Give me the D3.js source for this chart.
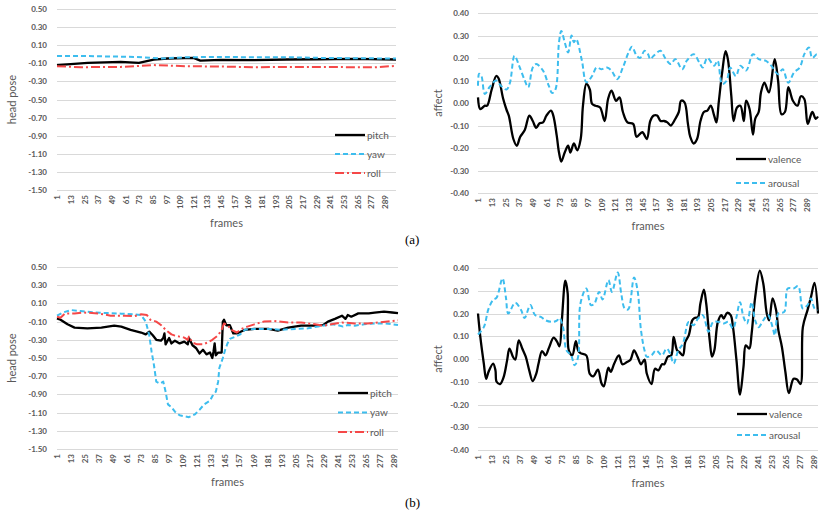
<!DOCTYPE html>
<meta charset="utf-8">
<style>
body { margin: 0; background: #fff; }
svg text { font-family: Lato, "Open Sans", sans-serif; fill: #595959; }
.tick text { font-size: 8px; font-weight: bold; }
.title { font-size: 11px; }
.legend text { font-size: 10px; }
.tag { font-family: "Liberation Serif", serif; fill: #000; font-size: 13px; }
.grid line { stroke: #d9d9d9; stroke-width: 1; }
</style>
<body>
<script src="https://cdn.jsdelivr.net/npm/d3@7"></script>
<script>

//---- tick labels ----
var poseTicks = [0.5, 0.3, 0.1, -0.1, -0.3, -0.5, -0.7, -0.9, -1.1, -1.3, -1.5];
var affectTicks = [0.4, 0.3, 0.2, 0.1, 0.0, -0.1, -0.2, -0.3, -0.4];
var frameTicks = [1, 13, 25, 37, 49, 61, 73, 85, 97, 109, 121, 133, 145, 157, 169, 181, 193, 205, 217, 229, 241, 253, 265, 277, 289];

//---- (a) head pose, [frame, value] ----
var a_pitch = [[1,-0.12],[16,-0.106],[28,-0.095],[57,-0.084],[73,-0.095],[86,-0.06],[98,-0.047],[121,-0.04],[127,-0.07],[145,-0.062],[174,-0.066],[203,-0.058],[232,-0.055],[262,-0.05],[299,-0.058]];
var a_yaw = [[1,-0.02],[28,-0.02],[71,-0.03],[92,-0.047],[115,-0.033],[145,-0.03],[174,-0.033],[203,-0.033],[232,-0.04],[262,-0.044],[299,-0.047]];
var a_roll = [[1,-0.132],[22,-0.143],[57,-0.14],[86,-0.12],[115,-0.132],[145,-0.136],[174,-0.143],[203,-0.14],[232,-0.14],[262,-0.143],[280,-0.145],[299,-0.128]];

//---- (a) affect ----
var a_valence = [[1,0.025],[3,-0.027],[7,-0.012],[9,-0.012],[13,0.06],[17,0.12],[19,0.11],[23,0.02],[26,-0.03],[28,-0.056],[32,-0.16],[35,-0.19],[38,-0.15],[42,-0.12],[46,-0.056],[49,-0.08],[52,-0.11],[55,-0.09],[58,-0.086],[61,-0.056],[65,-0.034],[67,-0.056],[70,-0.145],[72,-0.22],[74,-0.26],[77,-0.22],[80,-0.19],[82,-0.22],[85,-0.18],[88,-0.21],[91,-0.16],[93,-0.012],[96,0.085],[99,0.06],[101,-0.004],[104,-0.012],[108,-0.02],[112,-0.08],[115,0.018],[118,0.055],[122,0.01],[125,0.025],[128,-0.04],[132,-0.086],[137,-0.093],[140,-0.15],[145,-0.13],[149,-0.16],[152,-0.08],[155,-0.056],[158,-0.056],[161,-0.08],[164,-0.08],[167,-0.086],[170,-0.1],[174,-0.07],[177,-0.04],[179,0.01],[182,0.003],[185,-0.093],[187,-0.15],[190,-0.18],[193,-0.16],[196,-0.08],[199,-0.04],[202,-0.034],[205,-0.012],[208,-0.056],[210,-0.086],[212,0.003],[215,0.136],[218,0.23],[220,0.195],[223,0.033],[225,-0.08],[228,-0.02],[231,-0.012],[234,-0.08],[236,0.01],[239,-0.027],[242,-0.14],[244,-0.07],[247,-0.04],[249,0.047],[252,0.09],[256,0.047],[261,0.195],[264,0.1],[267,-0.05],[270,-0.04],[273,0.07],[277,0.01],[281,-0.012],[284,0.03],[287,0.018],[290,-0.093],[294,-0.04],[297,-0.07],[299,-0.06]];
var a_arousal = [[1,0.077],[2,0.13],[4,0.12],[7,0.04],[11,0.07],[17,0.1],[21,0.077],[26,0.06],[29,0.09],[33,0.21],[37,0.166],[42,0.1],[45,0.07],[49,0.158],[52,0.173],[58,0.144],[63,0.077],[66,0.044],[69,0.062],[72,0.27],[74,0.32],[77,0.27],[80,0.225],[83,0.3],[85,0.27],[87,0.284],[92,0.19],[96,0.092],[101,0.12],[105,0.158],[109,0.15],[114,0.158],[118,0.144],[123,0.106],[128,0.158],[133,0.225],[136,0.25],[140,0.21],[143,0.2],[147,0.232],[150,0.217],[152,0.195],[155,0.21],[161,0.232],[165,0.2],[170,0.173],[174,0.195],[180,0.15],[184,0.188],[190,0.217],[195,0.18],[198,0.158],[202,0.2],[208,0.166],[211,0.188],[215,0.084],[219,0.1],[222,0.158],[227,0.12],[231,0.166],[236,0.144],[242,0.217],[247,0.195],[253,0.188],[258,0.166],[264,0.128],[268,0.15],[273,0.09],[278,0.136],[283,0.158],[287,0.217],[291,0.247],[294,0.2],[298,0.217],[299,0.21]];

//---- (b) head pose ----
var b_pitch = [[1,-0.064],[4,-0.08],[10,-0.13],[16,-0.166],[27,-0.174],[39,-0.166],[50,-0.145],[56,-0.155],[64,-0.19],[73,-0.22],[77,-0.24],[80,-0.21],[83,-0.25],[86,-0.3],[90,-0.31],[92,-0.28],[93,-0.23],[94,-0.35],[97,-0.28],[99,-0.34],[102,-0.31],[106,-0.34],[110,-0.32],[113,-0.35],[114,-0.28],[117,-0.36],[120,-0.39],[123,-0.45],[126,-0.41],[129,-0.46],[132,-0.44],[134,-0.5],[135,-0.43],[136,-0.34],[137,-0.47],[139,-0.44],[142,-0.44],[143,-0.1],[144,-0.08],[146,-0.14],[149,-0.14],[152,-0.23],[155,-0.23],[162,-0.19],[170,-0.18],[182,-0.18],[190,-0.2],[199,-0.166],[210,-0.145],[222,-0.145],[229,-0.137],[233,-0.1],[239,-0.07],[245,-0.035],[248,-0.07],[250,-0.028],[253,-0.046],[259,-0.01],[268,-0.01],[273,-0.002],[281,0.009],[288,0.0],[293,-0.006]];
var b_yaw = [[1,-0.035],[6,0.0],[13,0.027],[21,0.016],[33,0.0],[44,-0.006],[56,-0.013],[67,-0.02],[73,-0.028],[77,-0.1],[80,-0.25],[82,-0.43],[84,-0.575],[86,-0.76],[89,-0.78],[92,-0.76],[94,-0.87],[96,-1.01],[99,-1.04],[102,-1.09],[106,-1.13],[110,-1.14],[114,-1.15],[119,-1.12],[123,-1.07],[127,-1.01],[132,-0.97],[134,-0.92],[137,-0.87],[139,-0.76],[140,-0.61],[143,-0.5],[145,-0.41],[147,-0.34],[149,-0.29],[154,-0.265],[158,-0.24],[162,-0.19],[170,-0.18],[182,-0.18],[193,-0.19],[205,-0.18],[216,-0.174],[228,-0.145],[236,-0.13],[241,-0.137],[246,-0.155],[250,-0.137],[256,-0.145],[264,-0.13],[273,-0.12],[282,-0.12],[293,-0.137]];
var b_roll = [[1,-0.046],[4,-0.057],[8,-0.01],[16,-0.01],[24,0.0],[36,-0.01],[47,-0.035],[59,-0.035],[67,-0.04],[73,-0.02],[78,-0.028],[81,-0.08],[86,-0.1],[90,-0.137],[94,-0.19],[99,-0.24],[102,-0.254],[106,-0.265],[110,-0.276],[113,-0.3],[114,-0.265],[117,-0.33],[121,-0.35],[126,-0.35],[130,-0.33],[134,-0.3],[139,-0.25],[142,-0.19],[144,-0.12],[147,-0.137],[150,-0.19],[155,-0.22],[159,-0.18],[164,-0.155],[170,-0.13],[178,-0.1],[187,-0.093],[199,-0.11],[210,-0.11],[222,-0.13],[229,-0.145],[236,-0.13],[245,-0.11],[256,-0.12],[267,-0.12],[278,-0.108],[293,-0.086]];

//---- (b) affect ----
var b_valence = [[1,0.2],[3,0.097],[6,-0.02],[8,-0.087],[10,-0.057],[14,-0.02],[16,-0.05],[17,-0.1],[20,-0.11],[23,-0.08],[26,-0.006],[28,0.046],[31,0.01],[33,-0.003],[36,0.082],[39,0.046],[42,0.01],[45,-0.05],[48,-0.097],[51,-0.065],[53,-0.02],[56,0.035],[59,0.016],[62,0.05],[66,0.094],[69,0.075],[71,0.056],[73,0.17],[76,0.344],[78,0.29],[79,0.038],[82,0.016],[85,0.078],[87,0.038],[89,0.026],[94,0.016],[97,-0.065],[100,-0.076],[104,-0.047],[107,-0.106],[109,-0.12],[113,-0.038],[115,-0.057],[118,-0.02],[122,0.016],[125,-0.023],[129,-0.013],[132,-0.003],[135,0.038],[138,0.01],[141,-0.023],[144,-0.003],[146,-0.065],[150,-0.11],[153,-0.043],[156,-0.05],[159,-0.023],[161,-0.023],[164,0.01],[167,0.016],[169,0.097],[172,0.038],[174,0.03],[177,0.016],[179,0.075],[182,0.104],[185,0.17],[187,0.18],[190,0.185],[192,0.244],[195,0.305],[197,0.244],[200,0.082],[202,0.01],[204,0.038],[207,0.163],[210,0.193],[212,0.178],[215,0.203],[218,0.193],[220,0.14],[223,-0.006],[226,-0.157],[229,-0.035],[231,0.06],[234,0.046],[236,0.112],[239,0.27],[243,0.388],[246,0.332],[249,0.2],[251,0.17],[254,0.266],[257,0.215],[259,0.126],[262,0.053],[265,-0.057],[268,-0.15],[272,-0.087],[275,-0.09],[278,-0.11],[280,0.14],[284,0.215],[287,0.273],[290,0.335],[293,0.2]];
var b_arousal = [[1,0.108],[6,0.14],[10,0.22],[14,0.26],[17,0.27],[22,0.354],[25,0.27],[27,0.2],[33,0.247],[38,0.215],[41,0.18],[46,0.237],[50,0.193],[55,0.185],[59,0.17],[65,0.163],[69,0.17],[71,0.18],[74,0.14],[77,0.038],[81,0.016],[84,-0.028],[87,0.01],[89,0.244],[94,0.31],[98,0.237],[101,0.244],[105,0.295],[108,0.262],[113,0.347],[116,0.295],[121,0.38],[124,0.288],[127,0.222],[130,0.218],[135,0.358],[138,0.303],[141,0.126],[144,0.038],[146,0.01],[150,0.016],[154,0.038],[159,0.016],[163,0.046],[166,0.024],[169,-0.02],[173,0.038],[177,0.068],[182,0.163],[186,0.148],[190,0.178],[194,0.193],[199,0.12],[203,0.163],[208,0.163],[212,0.156],[216,0.163],[220,0.134],[223,0.185],[226,0.25],[229,0.185],[232,0.156],[236,0.25],[239,0.17],[242,0.14],[246,0.17],[250,0.193],[254,0.14],[256,0.104],[259,0.2],[264,0.207],[267,0.31],[272,0.31],[276,0.32],[280,0.222],[284,0.237],[287,0.266],[290,0.222],[293,0.215]];

//---- styles ----
var BLACK = "#000000", BLUE = "#3dbdee", RED = "#f54848";
var solid = null, dashed = "5,3", dashdot = "9,3,2,3";

var svg = d3.select("body").append("svg").attr("width", 819).attr("height", 512);

function panel(cfg) {
    var x = d3.scaleLinear().domain([1, cfg.n]).range([cfg.left, cfg.right]);
    var y = d3.scaleLinear().domain([cfg.ticks[cfg.ticks.length - 1], cfg.ticks[0]]).range([cfg.bottom, cfg.top]);
    var g = svg.append("g");

    // gridlines
    g.append("g").attr("class", "grid").selectAll("line")
        .data(cfg.ticks).enter().append("line")
        .attr("x1", cfg.left).attr("x2", cfg.right)
        .attr("y1", function (d) { return Math.round(y(d)) + 0.5; })
        .attr("y2", function (d) { return Math.round(y(d)) + 0.5; });

    // y axis
    var ya = g.append("g").attr("transform", "translate(" + cfg.left + ",0)")
        .call(d3.axisLeft(y).tickValues(cfg.ticks).tickSize(0).tickPadding(cfg.ypad)
            .tickFormat(function (d) { return d.toFixed(2); }));
    ya.select(".domain").remove();

    // x axis
    var xa = g.append("g").attr("transform", "translate(0," + cfg.bottom + ")")
        .call(d3.axisBottom(x).tickValues(frameTicks).tickSize(0));
    xa.select(".domain").remove();
    xa.selectAll("text").attr("transform", "rotate(-90)")
        .attr("text-anchor", "end").attr("x", -5).attr("y", 0).attr("dy", "0.35em");

    // titles
    g.append("text").attr("class", "title").attr("text-anchor", "middle")
        .attr("x", (cfg.left + cfg.right) / 2 + cfg.fx).attr("y", cfg.fy).text("frames");
    g.append("text").attr("class", "title").attr("text-anchor", "middle")
        .attr("transform", "translate(" + cfg.yx + "," + (cfg.top + cfg.bottom) / 2 + ") rotate(-90)")
        .attr("dy", "0.35em").text(cfg.ytitle);

    // series
    cfg.series.forEach(function (s) {
        var line = d3.line().x(function (d) { return x(d[0]); }).y(function (d) { return y(d[1]); })
            .curve(cfg.smooth ? d3.curveCatmullRom.alpha(0.5) : d3.curveLinear);
        g.append("path").datum(s.data).attr("d", line)
            .attr("fill", "none").attr("stroke", s.color).attr("stroke-width", s.dash ? 2 : 2.3)
            .attr("stroke-dasharray", s.dash).attr("stroke-linejoin", "round");
    });

    // legend
    var lg = g.append("g").attr("class", "legend");
    cfg.series.forEach(function (s, i) {
        var ly = cfg.legY + i * cfg.legStep;
        lg.append("line").attr("x1", cfg.legX).attr("x2", cfg.legX + 30)
            .attr("y1", ly).attr("y2", ly)
            .attr("stroke", s.color).attr("stroke-width", s.dash ? 2 : 2.3).attr("stroke-dasharray", s.dash);
        lg.append("text").attr("x", cfg.legX + 32).attr("y", ly + 3.5).text(s.name);
    });
}

panel({ n: 299, left: 57, right: 396, top: 9, bottom: 190, ticks: poseTicks, ypad: 10,
    ytitle: "head pose", yx: 12, fx: 0, fy: 227, smooth: false,
    legX: 335, legY: 135, legStep: 19,
    series: [{ name: "pitch", data: a_pitch, color: BLACK, dash: solid },
             { name: "yaw", data: a_yaw, color: BLUE, dash: dashed },
             { name: "roll", data: a_roll, color: RED, dash: dashdot }] });

panel({ n: 299, left: 478, right: 818, top: 13, bottom: 193, ticks: affectTicks, ypad: 9,
    ytitle: "affect", yx: 438, fx: 0, fy: 230, smooth: true,
    legX: 736, legY: 159, legStep: 24,
    series: [{ name: "valence", data: a_valence, color: BLACK, dash: solid },
             { name: "arousal", data: a_arousal, color: BLUE, dash: dashed }] });

panel({ n: 293, left: 57, right: 398, top: 267, bottom: 449, ticks: poseTicks, ypad: 10,
    ytitle: "head pose", yx: 12, fx: 0, fy: 486, smooth: false,
    legX: 338, legY: 393, legStep: 19.5,
    series: [{ name: "pitch", data: b_pitch, color: BLACK, dash: solid },
             { name: "yaw", data: b_yaw, color: BLUE, dash: dashed },
             { name: "roll", data: b_roll, color: RED, dash: dashdot }] });

panel({ n: 293, left: 478, right: 818, top: 268, bottom: 450, ticks: affectTicks, ypad: 9,
    ytitle: "affect", yx: 438, fx: 0, fy: 487, smooth: true,
    legX: 737, legY: 414, legStep: 21,
    series: [{ name: "valence", data: b_valence, color: BLACK, dash: solid },
             { name: "arousal", data: b_arousal, color: BLUE, dash: dashed }] });

// sub-figure tags
svg.append("text").attr("class", "tag").attr("x", 405).attr("y", 244).text("(a)");
svg.append("text").attr("class", "tag").attr("x", 405).attr("y", 507).text("(b)");

</script>
</body>
